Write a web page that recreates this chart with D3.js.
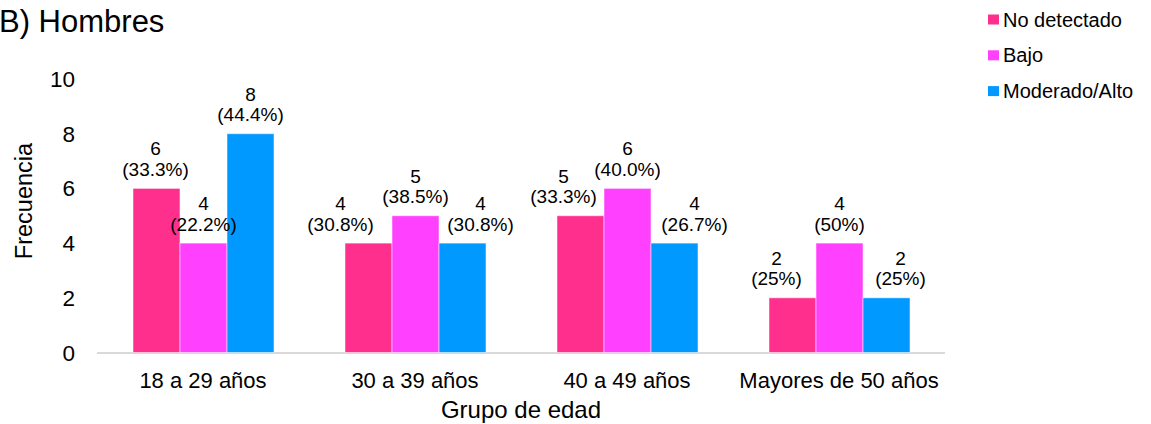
<!DOCTYPE html>
<html><head><meta charset="utf-8">
<script src="https://cdn.jsdelivr.net/npm/d3@7"></script>
<style>body{margin:0;background:#fff}svg{display:block}text{font-family:"Liberation Sans",Arial,sans-serif;fill:#000}</style>
</head><body><svg id="c" width="1151" height="424"></svg>
<script>
const categories = ["18 a 29 años","30 a 39 años","40 a 49 años","Mayores de 50 años"];
const seriesNames = ["No detectado","Bajo","Moderado/Alto"];
const noDetectado = [6,4,5,2];
const bajo = [4,5,6,4];
const moderadoAlto = [8,4,4,2];
const pctNoDetectado = ["33.3%","30.8%","33.3%","25%"];
const pctBajo = ["22.2%","38.5%","40.0%","50%"];
const pctModerado = ["44.4%","30.8%","26.7%","25%"];
const yTicks = [0,2,4,6,8,10];
const colors = ["#FF2F8E","#FF40FF","#0099FF"];
// label horizontal nudges (px) per series per category
const labelDx = [[-1,-28,-17,-16],[0,0,0,0],[0,18,20,14]];

const values = [noDetectado, bajo, moderadoAlto];
const pcts = [pctNoDetectado, pctBajo, pctModerado];
const svg = d3.select("#c");
const x0 = d3.scaleBand().domain(categories).range([97,945]);
const x1 = d3.scaleBand().domain(seriesNames).range([36,36+141]);
const y = d3.scaleLinear().domain([0,10]).range([352.5,79]);

// axis line
svg.append("line").attr("x1",97).attr("x2",945).attr("y1",y(0)+0.5).attr("y2",y(0)+0.5).attr("stroke","#d9d9d9").attr("stroke-width",2);

// y tick labels
svg.selectAll(".yt").data(yTicks).enter().append("text")
  .attr("x",75).attr("y",d=>y(d)+8).attr("text-anchor","end")
  .style("font-size","22.5px").text(d=>d);

// bars
const flat = [];
seriesNames.forEach((s,si)=>categories.forEach((c,ci)=>flat.push({s,si,c,ci,v:values[si][ci],p:pcts[si][ci]})));
svg.selectAll(".bar").data(flat).enter().append("rect")
  .attr("x",d=>x0(d.c)+x1(d.s)).attr("width",x1.bandwidth())
  .attr("y",d=>y(d.v)).attr("height",d=>y(0)-y(d.v))
  .attr("fill",d=>colors[d.si]).attr("stroke","rgba(255,255,255,0.5)").attr("stroke-width",1);

// labels
const lg = svg.selectAll(".lab").data(flat).enter().append("text")
  .attr("text-anchor","middle").style("font-size","19px");
lg.append("tspan").attr("x",d=>x0(d.c)+x1(d.s)+x1.bandwidth()/2+labelDx[d.si][d.ci])
  .attr("y",d=>y(d.v)-33).text(d=>d.v);
lg.append("tspan").attr("x",d=>x0(d.c)+x1(d.s)+x1.bandwidth()/2+labelDx[d.si][d.ci])
  .attr("y",d=>y(d.v)-12.5).text(d=>"("+d.p+")");

// x tick labels
svg.selectAll(".xt").data(categories).enter().append("text")
  .attr("x",d=>x0(d)+x0.bandwidth()/2).attr("y",387.5).attr("text-anchor","middle")
  .style("font-size","22px").text(d=>d);

// axis titles
svg.append("text").attr("x",521).attr("y",418).attr("text-anchor","middle").style("font-size","24px").text("Grupo de edad");
svg.append("text").attr("transform","translate(32,201) rotate(-90)").attr("text-anchor","middle").style("font-size","23.5px").text("Frecuencia");
svg.append("text").attr("x",-1).attr("y",32).style("font-size","31px").text("B) Hombres");

// legend
const leg = svg.selectAll(".lg").data(seriesNames).enter().append("g")
  .attr("transform",(d,i)=>`translate(988,${19.5+i*35.8})`);
leg.append("rect").attr("x",0).attr("y",-5).attr("width",11).attr("height",10).attr("fill",(d,i)=>colors[i]);
leg.append("text").attr("x",15).attr("y",7).style("font-size",
"20px").text(d=>d);
</script></body></html>
